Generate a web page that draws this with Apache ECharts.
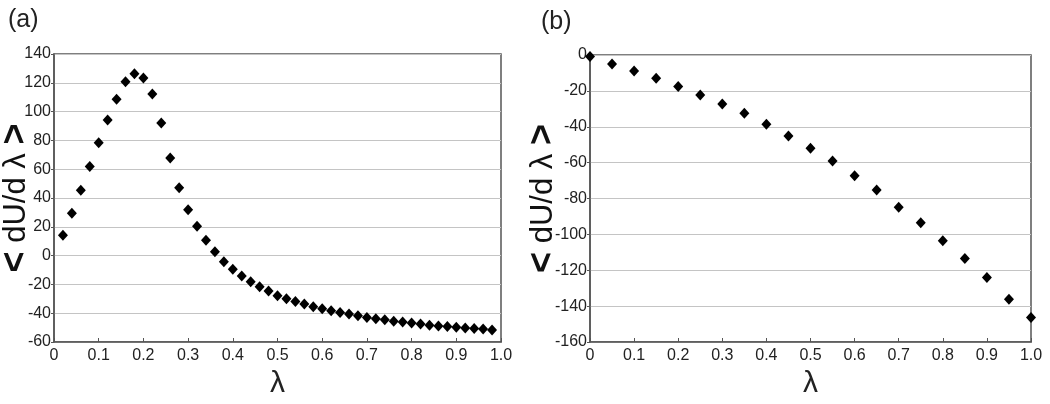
<!DOCTYPE html>
<html><head><meta charset="utf-8">
<script src="https://cdn.jsdelivr.net/npm/echarts@6/dist/echarts.min.js"></script>
<style>html,body{margin:0;padding:0;background:#fff}#c{width:1050px;height:404px}</style>
</head><body><div id="c"></div>
<script>
// Panel (a)
const lambdaA = [0.02,0.04,0.06,0.08,0.10,0.12,0.14,0.16,0.18,0.20,0.22,0.24,0.26,0.28,0.30,0.32,0.34,0.36,0.38,0.40,0.42,0.44,0.46,0.48,0.50,0.52,0.54,0.56,0.58,0.60,0.62,0.64,0.66,0.68,0.70,0.72,0.74,0.76,0.78,0.80,0.82,0.84,0.86,0.88,0.90,0.92,0.94,0.96,0.98];
const dUdlA = [14.1,29.4,45.3,61.8,78.4,94.2,108.5,120.8,126.3,123.3,112.2,92.1,67.8,47.2,31.9,20.3,10.6,2.7,-4.2,-9.5,-14.2,-18.1,-21.6,-24.6,-27.8,-29.9,-31.8,-33.6,-35.5,-36.9,-38.3,-39.6,-40.6,-41.7,-42.9,-43.8,-44.5,-45.6,-46.1,-46.8,-47.5,-48.4,-48.9,-49.3,-49.8,-50.2,-50.7,-50.9,-51.6];
// Panel (b)
const lambdaB = [0,0.05,0.10,0.15,0.20,0.25,0.30,0.35,0.40,0.45,0.50,0.55,0.60,0.65,0.70,0.75,0.80,0.85,0.90,0.95,1.00];
const dUdlB = [-0.8,-5.0,-8.9,-13.0,-17.5,-22.3,-27.3,-32.5,-38.6,-45.2,-52.0,-59.1,-67.3,-75.3,-84.9,-93.5,-103.5,-113.4,-124.1,-136.2,-146.4];
// Tick labels
const xTickLabels = ['0','0.1','0.2','0.3','0.4','0.5','0.6','0.7','0.8','0.9','1.0'];
const panelLabels = ['(a)','(b)'];
const xName = 'λ';

const FONT = '"Liberation Sans", "DejaVu Sans", sans-serif';
const chart = echarts.init(document.getElementById('c'), null, {renderer:'canvas'});

function xAxis(gi){
  return {
    type:'value', gridIndex:gi, min:0, max:1, interval:0.1,
    name:xName, nameLocation:'middle', nameGap:26,
    nameTextStyle:{fontSize:30, color:'#222', fontFamily:FONT},
    axisLine:{show:true, onZero:false, lineStyle:{color:'#555', width:1.5}},
    axisTick:{show:true, inside:true, length:4, lineStyle:{color:'#555'}},
    axisLabel:{fontSize:16, color:'#222', fontFamily:FONT, margin:6,
      formatter:(v)=>xTickLabels[Math.round(v*10)]},
    splitLine:{show:false}
  };
}
function yAxis(gi, min, max){
  return {
    type:'value', gridIndex:gi, min:min, max:max, interval:20,
    name:'{b|<} dU/d λ {b|>}', nameLocation:'middle', nameGap:gi===0?20:29, nameRotate:90,
    nameMoveOverlap:false,
    nameTextStyle:{fontSize:31, color:'#111', fontFamily:FONT,
      rich:{b:{fontSize:36, fontWeight:'bold', color:'#111', fontFamily:FONT}}},
    axisLine:{show:true, onZero:false, lineStyle:{color:'#555', width:1.5}},
    axisTick:{show:true, inside:false, length:3, lineStyle:{color:'#555'}},
    axisLabel:{fontSize:16, color:'#222', fontFamily:FONT, margin:3},
    splitLine:{show:true, lineStyle:{color:'#c4c4c4', width:1.2}}
  };
}

chart.setOption({
  animation:false,
  backgroundColor:'#fff',
  title:[
    {text:panelLabels[0], left:3, top:3, textStyle:{fontSize:25, fontWeight:'normal', color:'#222', fontFamily:FONT}},
    {text:panelLabels[1], left:536, top:5, textStyle:{fontSize:25, fontWeight:'normal', color:'#222', fontFamily:FONT}}
  ],
  grid:[
    {left:54, right:549, top:54, bottom:62, show:true, borderColor:'#555', borderWidth:1.5, backgroundColor:'transparent', containLabel:false, outerBoundsMode:'none'},
    {left:590, right:19, top:55, bottom:62, show:true, borderColor:'#555', borderWidth:1.5, backgroundColor:'transparent', containLabel:false, outerBoundsMode:'none'}
  ],
  xAxis:[xAxis(0), xAxis(1)],
  yAxis:[yAxis(0,-60,140), yAxis(1,-160,0)],
  series:[
    {type:'scatter', xAxisIndex:0, yAxisIndex:0, symbol:'diamond', symbolSize:[10,11],
     itemStyle:{color:'#000', opacity:1}, data:lambdaA.map((x,i)=>[x,dUdlA[i]])},
    {type:'scatter', xAxisIndex:1, yAxisIndex:1, symbol:'diamond', symbolSize:[10,11],
     itemStyle:{color:'#000', opacity:1}, data:lambdaB.map((x,i)=>[x,dUdlB[i]]), clip:false}
  ]
});
</script>
</body></html>
